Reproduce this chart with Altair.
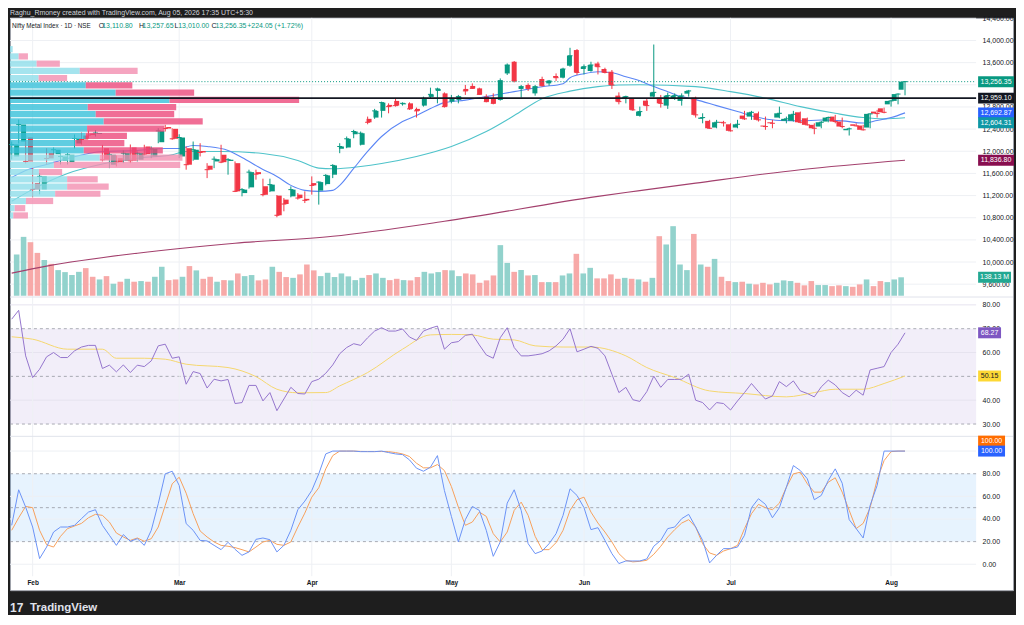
import altair as alt
import pandas as pd

# ---------------- data ----------------
months = ["Feb", "Mar", "Apr", "May", "Jun", "Jul", "Aug"]
month_bar = [3, 24, 43, 63, 82, 103, 126]

opens = [11906, 12176, 12248, 11425, 11312, 11965, 11947, 11829, 11803, 12140,
         12284, 12320, 12311, 12055, 11757, 11875, 11829, 12068, 11847, 12086,
         11906, 12163, 12437, 12405, 11906, 12055, 11847, 12005, 11739, 11816,
         11937, 11825, 11785, 11245, 11348, 11623, 11366, 11276, 11199, 11127,
         11186, 11217, 11141, 11425, 11289, 11407, 11577, 12045, 12068, 12307,
         12117, 12585, 12608, 12729, 12837, 12909, 12847, 12865, 12765, 12824,
         12981, 13089, 13045, 12896, 12927, 13125, 13179, 13135, 12986, 12945,
         12927, 13405, 13616, 13125, 13197, 13045, 13305, 13225, 13359, 13328,
         13544, 13827, 13485, 13449, 13585, 13485, 13436, 13004, 12955, 12945,
         12639, 12914, 12986, 12968, 12824, 12955, 12909, 13040, 12968, 12585,
         12549, 12428, 12531, 12487, 12428, 12644, 12626, 12685, 12464, 12523,
         12608, 12549, 12549, 12703, 12595, 12477, 12446, 12536, 12626, 12536,
         12379, 12487, 12464, 12428, 12716, 12775, 12847, 12909, 13110.80]
highs = [12176, 12572, 12284, 11695, 11605, 12055, 12068, 11942, 11965, 12302,
         12338, 12374, 12383, 12117, 11996, 11924, 12014, 12122, 11996, 12117,
         12086, 12415, 12477, 12415, 12307, 12086, 12176, 12145, 11785, 11906,
         12117, 11875, 11816, 11335, 11667, 11667, 11505, 11505, 11210, 11155,
         11366, 11245, 11276, 11546, 11456, 11587, 11767, 12145, 12266, 12387,
         12356, 12626, 12765, 12896, 12865, 12955, 12883, 12883, 12788, 12986,
         13148, 13148, 13063, 13017, 13017, 13197, 13225, 13148, 13027, 13045,
         13315, 13585, 13629, 13197, 13225, 13197, 13346, 13287, 13405, 13508,
         13868, 13845, 13567, 13616, 13616, 13508, 13467, 13063, 13004, 12955,
         12806, 12955, 13927, 13017, 13058, 13045, 13045, 13107, 12986, 12685,
         12567, 12567, 12549, 12505, 12567, 12729, 12729, 12716, 12626, 12567,
         12806, 12626, 12729, 12716, 12608, 12505, 12549, 12626, 12657, 12608,
         12428, 12505, 12477, 12685, 12747, 12788, 12927, 13045, 13257.65]
lows = [11852, 12140, 11780, 11168, 11222, 11762, 11924, 11762, 11762, 12050,
        12122, 12230, 12266, 11816, 11695, 11726, 11785, 11785, 11816, 11924,
        11875, 12145, 12356, 12207, 11875, 11667, 11829, 11906, 11515, 11695,
        11785, 11577, 11263, 11186, 11325, 11487, 11186, 11263, 10808, 10916,
        11168, 11127, 11065, 11217, 11037, 11384, 11515, 11965, 12055, 12235,
        12104, 12487, 12585, 12608, 12685, 12806, 12824, 12747, 12608, 12806,
        12955, 12865, 12788, 12865, 12865, 13017, 13125, 13017, 12883, 12847,
        12914, 13377, 13243, 12968, 13089, 13004, 13166, 13184, 13269, 13315,
        13526, 13377, 13387, 13436, 13387, 13405, 13125, 12847, 12865, 12729,
        12626, 12729, 12970, 12788, 12765, 12927, 12824, 12986, 12608, 12505,
        12405, 12415, 12446, 12356, 12415, 12567, 12567, 12536, 12387, 12415,
        12596, 12505, 12536, 12505, 12464, 12307, 12415, 12523, 12505, 12415,
        12284, 12446, 12374, 12415, 12608, 12685, 12806, 12847, 13010.00]
closes = [12122, 12482, 11816, 11312, 11546, 11870, 12027, 11906, 11937, 12230,
          12212, 12293, 12329, 11847, 11937, 11803, 11965, 11829, 11965, 11947,
          12045, 12369, 12410, 12225, 12248, 11757, 12027, 11978, 11667, 11857,
          11803, 11847, 11276, 11307, 11623, 11587, 11217, 11397, 10844, 11047,
          11307, 11155, 11114, 11384, 11443, 11564, 11744, 12086, 12225, 12356,
          12325, 12523, 12729, 12878, 12806, 12824, 12865, 12765, 12729, 12955,
          13027, 13125, 12806, 12955, 12986, 13089, 13135, 13027, 12896, 12865,
          13274, 13557, 13269, 13166, 13135, 13166, 13184, 13269, 13328, 13485,
          13724, 13423, 13526, 13557, 13526, 13423, 13197, 12896, 12986, 12747,
          12716, 12824, 13063, 12865, 13004, 13004, 12999, 13089, 12657, 12608,
          12415, 12523, 12513, 12369, 12487, 12585, 12703, 12567, 12446, 12505,
          12685, 12585, 12667, 12523, 12477, 12415, 12523, 12608, 12536, 12446,
          12405, 12459, 12387, 12675, 12680, 12703, 12909, 13032.30, 13256.35]
volumes_m = [309, 441, 401, 321, 267, 239, 192, 177, 155, 179,
             207, 142, 122, 147, 90, 105, 127, 105, 110, 105,
             142, 217, 117, 122, 142, 222, 190, 127, 142, 105,
             117, 115, 167, 147, 155, 115, 122, 217, 179, 140,
             134, 160, 234, 190, 147, 172, 140, 167, 145, 117,
             134, 155, 167, 134, 117, 127, 117, 115, 140, 179,
             167, 177, 192, 190, 147, 167, 160, 97, 115, 152,
             379, 246, 179, 192, 152, 155, 102, 102, 102, 152,
             167, 314, 167, 209, 130, 130, 160, 127, 134, 127,
             122, 105, 134, 446, 384, 521, 234, 192, 463, 234,
             217, 276, 142, 110, 102, 105, 90, 85, 97, 85,
             97, 115, 110, 97, 78, 110, 80, 80, 72, 78,
             72, 67, 85, 122, 72, 110, 102, 122, 138.13]

# moving averages (sampled along the drawn lines)
ema_fast_bar = [0, 2, 5, 8, 13, 18, 22, 24, 26, 28, 31, 33, 36, 38, 40, 42, 44, 46, 47, 49,
                51, 53, 56, 58, 60, 62, 65, 68, 72, 76, 79, 80, 82, 84, 86, 88, 90, 91, 94, 96,
                98, 101, 104, 107, 110, 113, 116, 119, 122, 124, 126, 128]
ema_fast_val = [11528, 11654, 11762, 11870, 11996, 12014, 12050, 12050, 12104, 12086,
                12014, 11888, 11672, 11546, 11384, 11294, 11276, 11294, 11384, 11690,
                11996, 12266, 12536, 12644, 12770, 12878, 12923, 12986, 13076, 13166,
                13220, 13328, 13400, 13436, 13418, 13346, 13274, 13220, 13076, 12986,
                12932, 12824, 12716, 12608, 12554, 12549, 12563, 12549, 12509, 12554,
                12608, 12692.87]
ema_mid_bar = [0, 3, 8, 13, 18, 23, 25, 30, 36, 41, 44, 46, 50, 53, 58, 63, 68, 72, 76, 80,
               84, 87, 90, 98, 103, 108, 113, 118, 122, 125, 128]
ema_mid_val = [11096, 11312, 11600, 11771, 11875, 11937, 11996, 11996, 11960, 11834,
               11695, 11685, 11726, 11780, 11906, 12086, 12356, 12644, 12950, 13085,
               13166, 13197, 13202, 13166, 13076, 12959, 12806, 12685, 12608, 12585, 12604.31]
sma_long_bar = [0, 5, 18, 32, 46, 62, 84, 90, 98, 113, 128]
sma_long_val = [9800, 9926, 10160, 10340, 10466, 10736, 11186, 11289, 11425, 11667, 11836.80]

poc_level = 12959.10

# visible-range volume profile (rows from top to bottom)
prof_high = [13917, 13786.5, 13656, 13525.5, 13395, 13264.5, 13134, 13003.5, 12873, 12742.5,
             12612, 12481.5, 12351, 12220.5, 12090, 11959.5, 11829, 11698.5, 11568, 11437.5,
             11307, 11176.5, 11046, 10915.5]
prof_low = [13786.5, 13656, 13525.5, 13395, 13264.5, 13134, 13003.5, 12873, 12742.5, 12612,
            12481.5, 12351, 12220.5, 12090, 11959.5, 11829, 11698.5, 11568, 11437.5, 11307,
            11176.5, 11046, 10915.5, 10785]
prof_up = [27, 87, 267, 700, 287, 760, 1060, 1600, 780, 860, 940, 773, 760, 653, 740,
           900, 440, 290, 573, 573, 453, 160, 47, 33]
prof_dn = [0, 93, 233, 580, 286, 467, 787, 1300, 887, 787, 993, 774, 413, 494, 793,
           830, 1267, 233, 307, 417, 454, 273, 106, 147]
value_area = [False] * 5 + [True] * 10 + [False] * 9

rsi = [74.0, 77.7, 58.6, 49.5, 53.0, 58.2, 60.0, 57.9, 57.9, 60.7,
       62.3, 63.0, 63.0, 53.3, 54.7, 51.9, 54.8, 51.6, 54.7, 54.1,
       56.5, 62.8, 63.5, 57.6, 58.2, 46.7, 52.0, 51.2, 45.1, 48.8,
       48.1, 48.7, 38.6, 39.0, 46.2, 46.2, 39.7, 43.2, 35.6, 40.5,
       45.4, 42.8, 42.6, 47.8, 48.8, 51.3, 54.8, 59.5, 62.1, 63.7,
       63.0, 66.2, 69.0, 70.4, 69.0, 69.0, 69.9, 66.5, 65.1, 69.0,
       70.2, 71.1, 61.4, 64.1, 64.6, 67.2, 67.7, 63.2, 59.0, 57.6,
       66.2, 70.4, 62.1, 58.6, 58.6, 59.0, 59.5, 60.7, 62.8, 65.6,
       70.0, 60.3, 61.4, 62.6, 61.8, 58.6, 50.9, 43.2, 45.4, 40.2,
       39.5, 43.6, 50.1, 45.4, 48.7, 48.7, 48.8, 50.9, 40.0, 39.0,
       35.9, 39.0, 38.6, 35.9, 39.7, 43.2, 47.0, 43.6, 40.5, 41.8,
       47.8, 45.7, 48.1, 43.9, 42.8, 41.4, 45.6, 48.4, 46.4, 43.2,
       41.4, 44.2, 42.1, 52.7, 53.4, 54.1, 60.0, 63.5, 68.27]
rsi_ma_bar = [0, 3, 8, 13, 15, 19, 22, 25, 31, 35, 38, 41, 45, 47, 51, 56, 60, 63, 66, 69,
              72, 75, 79, 83, 88, 91, 95, 100, 105, 111, 115, 118, 122, 125, 128]
rsi_ma_val = [66.6, 65.6, 61.4, 61.4, 57.6, 57.6, 57.2, 55.1, 53.7, 49.9,
              44.6, 43.1, 43.2, 46.0, 51.6, 61.4, 67.4, 67.6, 67.4, 65.6,
              65.3, 62.8, 62.3, 62.3, 58.6, 53.7, 49.5, 43.9, 42.8, 41.4,
              43.2, 44.6, 44.6, 47.0, 50.15]

stoch_k = [34.4, 65.8, 50.5, 32.9, 5.0, 15.2, 28.5, 32.9, 32.9, 34.4,
           40.3, 46.1, 48.2, 34.4, 25.6, 16.7, 26.2, 20.3, 22.6, 16.7,
           30.0, 53.5, 79.9, 82.2, 69.6, 35.9, 30.0, 21.1, 20.6, 16.7,
           12.9, 19.4, 13.2, 7.9, 10.9, 22.0, 23.2, 21.7, 10.9, 16.7,
           30.0, 48.2, 55.8, 65.2, 79.9, 97.5, 100, 100, 100, 100,
           99.5, 99.5, 99.5, 100, 98.7, 97.5, 96.9, 92.2, 84.9, 82.2,
           85.8, 96.0, 65.2, 42.3, 19.7, 39.4, 51.1, 47.6, 30.0, 7.0,
           19.7, 54.0, 65.8, 47.6, 18.2, 9.4, 11.7, 18.2, 27.0, 43.2,
           66.7, 60.8, 50.0, 30.6, 32.3, 21.1, 9.4, 0.6, 2.9, 2.9,
           2.9, 4.7, 15.9, 21.1, 31.5, 32.9, 40.3, 44.1, 32.9, 21.1,
           1.2, 7.9, 13.8, 13.8, 15.2, 25.6, 50.0, 57.9, 52.9, 41.1,
           50.0, 68.1, 87.2, 82.8, 75.5, 57.0, 60.8, 74.0, 84.3, 71.6,
           39.4, 31.5, 23.2, 52.0, 69.6, 100, 100, 100, 100]
stoch_d = [30.0, 41.1, 51.1, 50.0, 30.0, 17.3, 15.2, 24.7, 31.5, 33.8,
           36.1, 41.1, 44.1, 43.2, 37.3, 27.6, 24.1, 21.1, 23.2, 20.3,
           22.6, 32.9, 52.0, 71.1, 76.9, 62.8, 44.7, 29.4, 24.1, 19.7,
           16.7, 15.9, 14.7, 12.9, 10.9, 15.2, 19.7, 21.1, 17.6, 16.7,
           19.7, 32.9, 45.2, 59.3, 67.6, 84.3, 96.0, 100, 100, 100,
           99.7, 99.6, 99.6, 99.6, 99.5, 98.7, 97.5, 95.2, 89.3, 85.2,
           85.2, 88.1, 82.8, 68.7, 50.5, 34.4, 37.3, 46.1, 42.3, 27.0,
           19.7, 28.5, 47.6, 54.9, 43.2, 24.7, 12.9, 12.9, 19.1, 30.0,
           47.6, 57.0, 59.3, 46.1, 36.4, 28.5, 19.7, 9.4, 3.5, 2.1,
           2.6, 3.5, 8.8, 15.9, 24.1, 30.6, 36.4, 39.4, 32.9, 18.2,
           10.0, 7.9, 11.7, 13.8, 16.7, 31.5, 44.7, 52.9, 50.0, 48.2,
           54.0, 68.1, 79.9, 81.3, 71.1, 63.7, 63.7, 72.5, 76.4, 63.7,
           47.6, 31.5, 36.1, 50.0, 74.6, 91.6, 99.5, 100, 100]

price_grid = [14400, 14000, 13600, 13200, 12800, 12400, 12000, 11600, 11200, 10800,
              10400, 10000, 9600]
price_labels = [14400, 14000, 13600, 12800, 12400, 12000, 11600, 11200, 10800,
                10400, 10000, 9600]          # 13,200 is hidden behind the last-price tag
rsi_labels = [80, 70, 60, 40, 30]            # 50 is hidden behind the MA tag
rsi_grid = [80, 60, 40]
rsi_dash = [70, 50, 30]
sto_labels = [80, 60, 40, 20, 0]             # 100 is hidden behind the %K / %D tags
sto_grid = [100, 60, 40, 0]
sto_dash = [80, 50, 20]

# ---------------- layout (pixels of the view) ----------------
W, H = 1006, 574
PR = 969  # right edge of the plotting area (price scale beyond)
X_DOM = [-0.243, (W - 1.7) / 7]
PRICE_DOM = [4076, 14408]
VOL_DOM = [-2205, 2081]
RSI_DOM = [-39.7, 200.4]
STO_DOM = [-22.9, 482.8]
PROF_DOM = [0, W * 10]

UP, DOWN = "#089981", "#f23645"
DARK = "#131722"
FONT = "Liberation Sans"


def sc(dom):
    return alt.Scale(domain=dom, nice=False, zero=False)


def xbar(field="i:Q"):
    return alt.X(field, scale=sc(X_DOM), axis=None)


one = pd.DataFrame({"k": [0]})

bars = pd.DataFrame({"i": list(range(len(closes))), "o": opens, "h": highs, "l": lows,
                     "c": closes, "vol": volumes_m})
bars["dir"] = ["up" if c >= o else "down" for o, c in zip(opens, closes)]
bars["zero"] = 0
candle_color = alt.condition("datum.dir == 'up'", alt.value(UP), alt.value(DOWN))

layers = []

# pane backgrounds
layers.append(alt.Chart(pd.DataFrame({"lo": [30], "hi": [70]})).mark_rect(color="#7e57c2", opacity=0.1).encode(
    x=alt.value(0), x2=alt.value(PR),
    y=alt.Y("lo:Q", scale=sc(RSI_DOM), axis=None), y2=alt.Y2("hi")))
layers.append(alt.Chart(pd.DataFrame({"lo": [20], "hi": [80]})).mark_rect(color="#2196f3", opacity=0.11).encode(
    x=alt.value(0), x2=alt.value(PR),
    y=alt.Y("lo:Q", scale=sc(STO_DOM), axis=None), y2=alt.Y2("hi")))

LABEL_X = 975
axis_common = dict(orient="right", offset=LABEL_X - 2 - W, labelPadding=2, domain=False, ticks=False,
                   grid=False, labelFontSize=7, labelColor=DARK, labelFont=FONT, labelOverlap=False,
                   labelFlush=False, labelBound=False, title=None, format=",.2f")

# grids + axes
layers.append(alt.Chart(pd.DataFrame({"v": price_grid})).mark_rule(color="#eef0f4").encode(
    x=alt.value(0), x2=alt.value(PR),
    y=alt.Y("v:Q", scale=sc(PRICE_DOM), axis=alt.Axis(values=price_labels, **axis_common))))
layers.append(alt.Chart(pd.DataFrame({"v": rsi_grid})).mark_rule(color="#e6e3ef").encode(
    x=alt.value(0), x2=alt.value(PR),
    y=alt.Y("v:Q", scale=sc(RSI_DOM), axis=alt.Axis(values=rsi_labels, **axis_common))))
layers.append(alt.Chart(pd.DataFrame({"v": sto_grid})).mark_rule(color="#eef0f4").encode(
    x=alt.value(0), x2=alt.value(PR),
    y=alt.Y("v:Q", scale=sc(STO_DOM), axis=alt.Axis(values=sto_labels, **axis_common))))
layers.append(alt.Chart(pd.DataFrame({"v": rsi_dash})).mark_rule(color="#9598a1", strokeDash=[3, 3], opacity=0.8).encode(
    x=alt.value(0), x2=alt.value(PR), y=alt.Y("v:Q", scale=sc(RSI_DOM), axis=None)))
layers.append(alt.Chart(pd.DataFrame({"v": sto_dash})).mark_rule(color="#9598a1", strokeDash=[3, 3], opacity=0.8).encode(
    x=alt.value(0), x2=alt.value(PR), y=alt.Y("v:Q", scale=sc(STO_DOM), axis=None)))

month_expr = " : ".join(f"datum.value == {b} ? '{m}'" for b, m in zip(month_bar, months)) + " : ''"
layers.append(alt.Chart(pd.DataFrame({"m": month_bar})).mark_rule(color="#eef0f4").encode(
    x=alt.X("m:Q", scale=sc(X_DOM), axis=alt.Axis(
        values=month_bar, labelExpr=month_expr, orient="bottom", offset=-13, labelPadding=2,
        domain=False, ticks=False, grid=False, labelFontSize=6.5, labelFontWeight="bold",
        labelColor=DARK, labelFont=FONT, labelOverlap=False, labelFlush=False, labelBound=False,
        title=None)),
    y=alt.value(0), y2=alt.value(560)))

# pane separators
for sep in (280, 419.7):
    layers.append(alt.Chart(one).mark_rule(color="#e0e3eb").encode(
        x=alt.value(0), x2=alt.value(W), y=alt.value(sep)))

# volume
layers.append(alt.Chart(bars).mark_bar(width=5.6).encode(
    x=xbar(), y=alt.Y("vol:Q", scale=sc(VOL_DOM), axis=None), y2=alt.Y2("zero"),
    color=alt.condition("datum.dir == 'up'", alt.value("#92d2cc"), alt.value("#f7a9a8"))))


def line(bar_idx, vals, dom, color, width=1.0, interp="linear", opacity=1.0):
    df = pd.DataFrame({"i": bar_idx, "v": vals})
    return alt.Chart(df).mark_line(color=color, strokeWidth=width, interpolate=interp, opacity=opacity).encode(
        x=xbar(), y=alt.Y("v:Q", scale=sc(dom), axis=None))


# moving averages
layers.append(line(sma_long_bar, sma_long_val, PRICE_DOM, "#a3406d", 1.1, "monotone"))
layers.append(line(ema_mid_bar, ema_mid_val, PRICE_DOM, "#4fc3ca", 1.1, "monotone"))
layers.append(line(ema_fast_bar, ema_fast_val, PRICE_DOM, "#5b86f5", 1.1, "monotone"))

# candles
layers.append(alt.Chart(bars).mark_rule(strokeWidth=1).encode(
    x=xbar(), y=alt.Y("l:Q", scale=sc(PRICE_DOM), axis=None), y2=alt.Y2("h"), color=candle_color))
layers.append(alt.Chart(bars).mark_bar(width=5).encode(
    x=xbar(), y=alt.Y("o:Q", scale=sc(PRICE_DOM), axis=None), y2=alt.Y2("c"), color=candle_color))
layers.append(alt.Chart(bars).mark_rule(strokeWidth=1, xOffset=-2.5, x2Offset=2.5).encode(
    x=xbar(), x2=alt.X2("i"), y=alt.Y("c:Q", scale=sc(PRICE_DOM), axis=None), color=candle_color))

# volume profile (drawn over the candles, semi transparent)
prof = pd.DataFrame({"lo": prof_low, "hi": prof_high, "up": prof_up, "dn": prof_dn, "va": value_area})
prof["zero"] = 0
prof["end"] = prof["up"] + prof["dn"]
layers.append(alt.Chart(prof).mark_rect(opacity=0.8, y2Offset=1).encode(
    x=alt.X("zero:Q", scale=sc(PROF_DOM), axis=None), x2=alt.X2("up"),
    y=alt.Y("lo:Q", scale=sc(PRICE_DOM), axis=None), y2=alt.Y2("hi"),
    color=alt.condition("datum.va", alt.value("#37c0d9"), alt.value("#8eddea"))))
layers.append(alt.Chart(prof).mark_rect(opacity=0.8, y2Offset=1).encode(
    x=alt.X("up:Q", scale=sc(PROF_DOM), axis=None), x2=alt.X2("end"),
    y=alt.Y("lo:Q", scale=sc(PRICE_DOM), axis=None), y2=alt.Y2("hi"),
    color=alt.condition("datum.va", alt.value("#ec4a7c"), alt.value("#f28eb0"))))

# horizontal level and last price line
layers.append(alt.Chart(pd.DataFrame({"v": [poc_level]})).mark_rule(color=DARK, strokeWidth=1.6).encode(
    x=alt.value(0), x2=alt.value(PR), y=alt.Y("v:Q", scale=sc(PRICE_DOM), axis=None)))
layers.append(alt.Chart(pd.DataFrame({"v": [closes[-1]]})).mark_rule(color=UP, strokeWidth=1, strokeDash=[1, 2]).encode(
    x=alt.value(0), x2=alt.value(PR), y=alt.Y("v:Q", scale=sc(PRICE_DOM), axis=None)))

# oscillators
bar_idx = list(range(len(closes)))
layers.append(line(rsi_ma_bar, rsi_ma_val, RSI_DOM, "#f5d76e", 1.0, "monotone"))
layers.append(line(bar_idx, rsi, RSI_DOM, "#9575cd", 1.0))
layers.append(line(bar_idx, stoch_d, STO_DOM, "#f7a15c", 1.0))
layers.append(line(bar_idx, stoch_k, STO_DOM, "#6b93f6", 1.0))

# value tags on the right scale
tags = [
    (closes[-1], f"{closes[-1]:,.2f}", PRICE_DOM, UP, "white", 36, 0),
    (poc_level, f"{poc_level:,.2f}", PRICE_DOM, DARK, "white", 36, 0),
    (ema_fast_val[-1], f"{ema_fast_val[-1]:,.2f}", PRICE_DOM, "#2962ff", "white", 36, 0),
    (ema_mid_val[-1], f"{ema_mid_val[-1]:,.2f}", PRICE_DOM, "#0e97a5", "white", 36, 5),
    (sma_long_val[-1], f"{sma_long_val[-1]:,.2f}", PRICE_DOM, "#880e4f", "white", 36, 0),
    (volumes_m[-1], f"{volumes_m[-1]:.2f} M", VOL_DOM, "#22a892", "white", 33, 0),
    (rsi[-1], f"{rsi[-1]:.2f}", RSI_DOM, "#7e57c2", "white", 23, 0),
    (rsi_ma_val[-1], f"{rsi_ma_val[-1]:.2f}", RSI_DOM, "#fdd835", DARK, 23, 0),
    (stoch_d[-1], f"{stoch_d[-1]:.2f}", STO_DOM, "#ff6d00", "white", 27, -10),
    (stoch_k[-1], f"{stoch_k[-1]:.2f}", STO_DOM, "#2962ff", "white", 27, 0),
]
TAG_X = 971
for val, label, dom, bg, fg, w, nudge in tags:
    df = pd.DataFrame({"v": [val]})
    layers.append(alt.Chart(df).mark_rect(color=bg, yOffset=-5.5 + nudge, y2Offset=5.5 + nudge).encode(
        x=alt.value(TAG_X), x2=alt.value(TAG_X + w),
        y=alt.Y("v:Q", scale=sc(dom), axis=None), y2=alt.Y2("v")))
    layers.append(alt.Chart(df).mark_text(text=label, color=fg, fontSize=7, font=FONT, align="center",
                                          baseline="middle", dy=nudge).encode(
        x=alt.value(TAG_X + w / 2), y=alt.Y("v:Q", scale=sc(dom), axis=None)))

# legend line
change = closes[-1] - closes[-2]
pct = change / closes[-2] * 100
layers.append(alt.Chart(one).mark_text(text="Nifty Metal Index · 1D · NSE", color=DARK, fontSize=6.3, font=FONT,
                                       align="left", baseline="middle").encode(x=alt.value(2), y=alt.value(8)))
legend_parts = [
    ("O", 89, DARK), (f"{opens[-1]:,.2f}", 92.5, UP),
    ("H", 129.3, DARK), (f"{highs[-1]:,.2f}", 133, UP),
    ("L", 165, DARK), (f"{lows[-1]:,.2f}", 168.7, UP),
    ("C", 202, DARK), (f"{closes[-1]:,.2f}", 206, UP),
    (f"+{change:.2f} (+{pct:.2f}%)", 238, UP),
]
for txt, xpos, col in legend_parts:
    layers.append(alt.Chart(one).mark_text(text=txt, color=col, fontSize=7, font=FONT, align="left",
                                           baseline="middle").encode(x=alt.value(xpos), y=alt.value(8)))

# header and footer on the dark frame
layers.append(alt.Chart(one).mark_text(
    text="Raghu_Rmoney created with TradingView.com, Aug 05, 2026 17:35 UTC+5:30",
    color="#d1d4dc", fontSize=7, font=FONT, align="left", baseline="middle").encode(
    x=alt.value(0), y=alt.value(-4.5)))
layers.append(alt.Chart(one).mark_text(text="17", color="#e0e3eb", fontSize=12, fontWeight="bold", font=FONT,
                                       align="left", baseline="middle").encode(x=alt.value(0), y=alt.value(592)))
layers.append(alt.Chart(one).mark_text(text="TradingView", color="#e0e3eb", fontSize=11.5, fontWeight="bold",
                                       font=FONT, align="left", baseline="middle").encode(
    x=alt.value(20), y=alt.value(592)))

chart = alt.layer(*layers).resolve_scale(x="independent", y="independent").properties(
    width=W, height=H, background="#1e1e1e",
    padding={"left": 0, "top": 0, "right": 2, "bottom": 0},
).configure_view(fill="white", stroke="#a0a3ab")

chart.save("out.html", embed_options={"renderer": "svg", "actions": False})
